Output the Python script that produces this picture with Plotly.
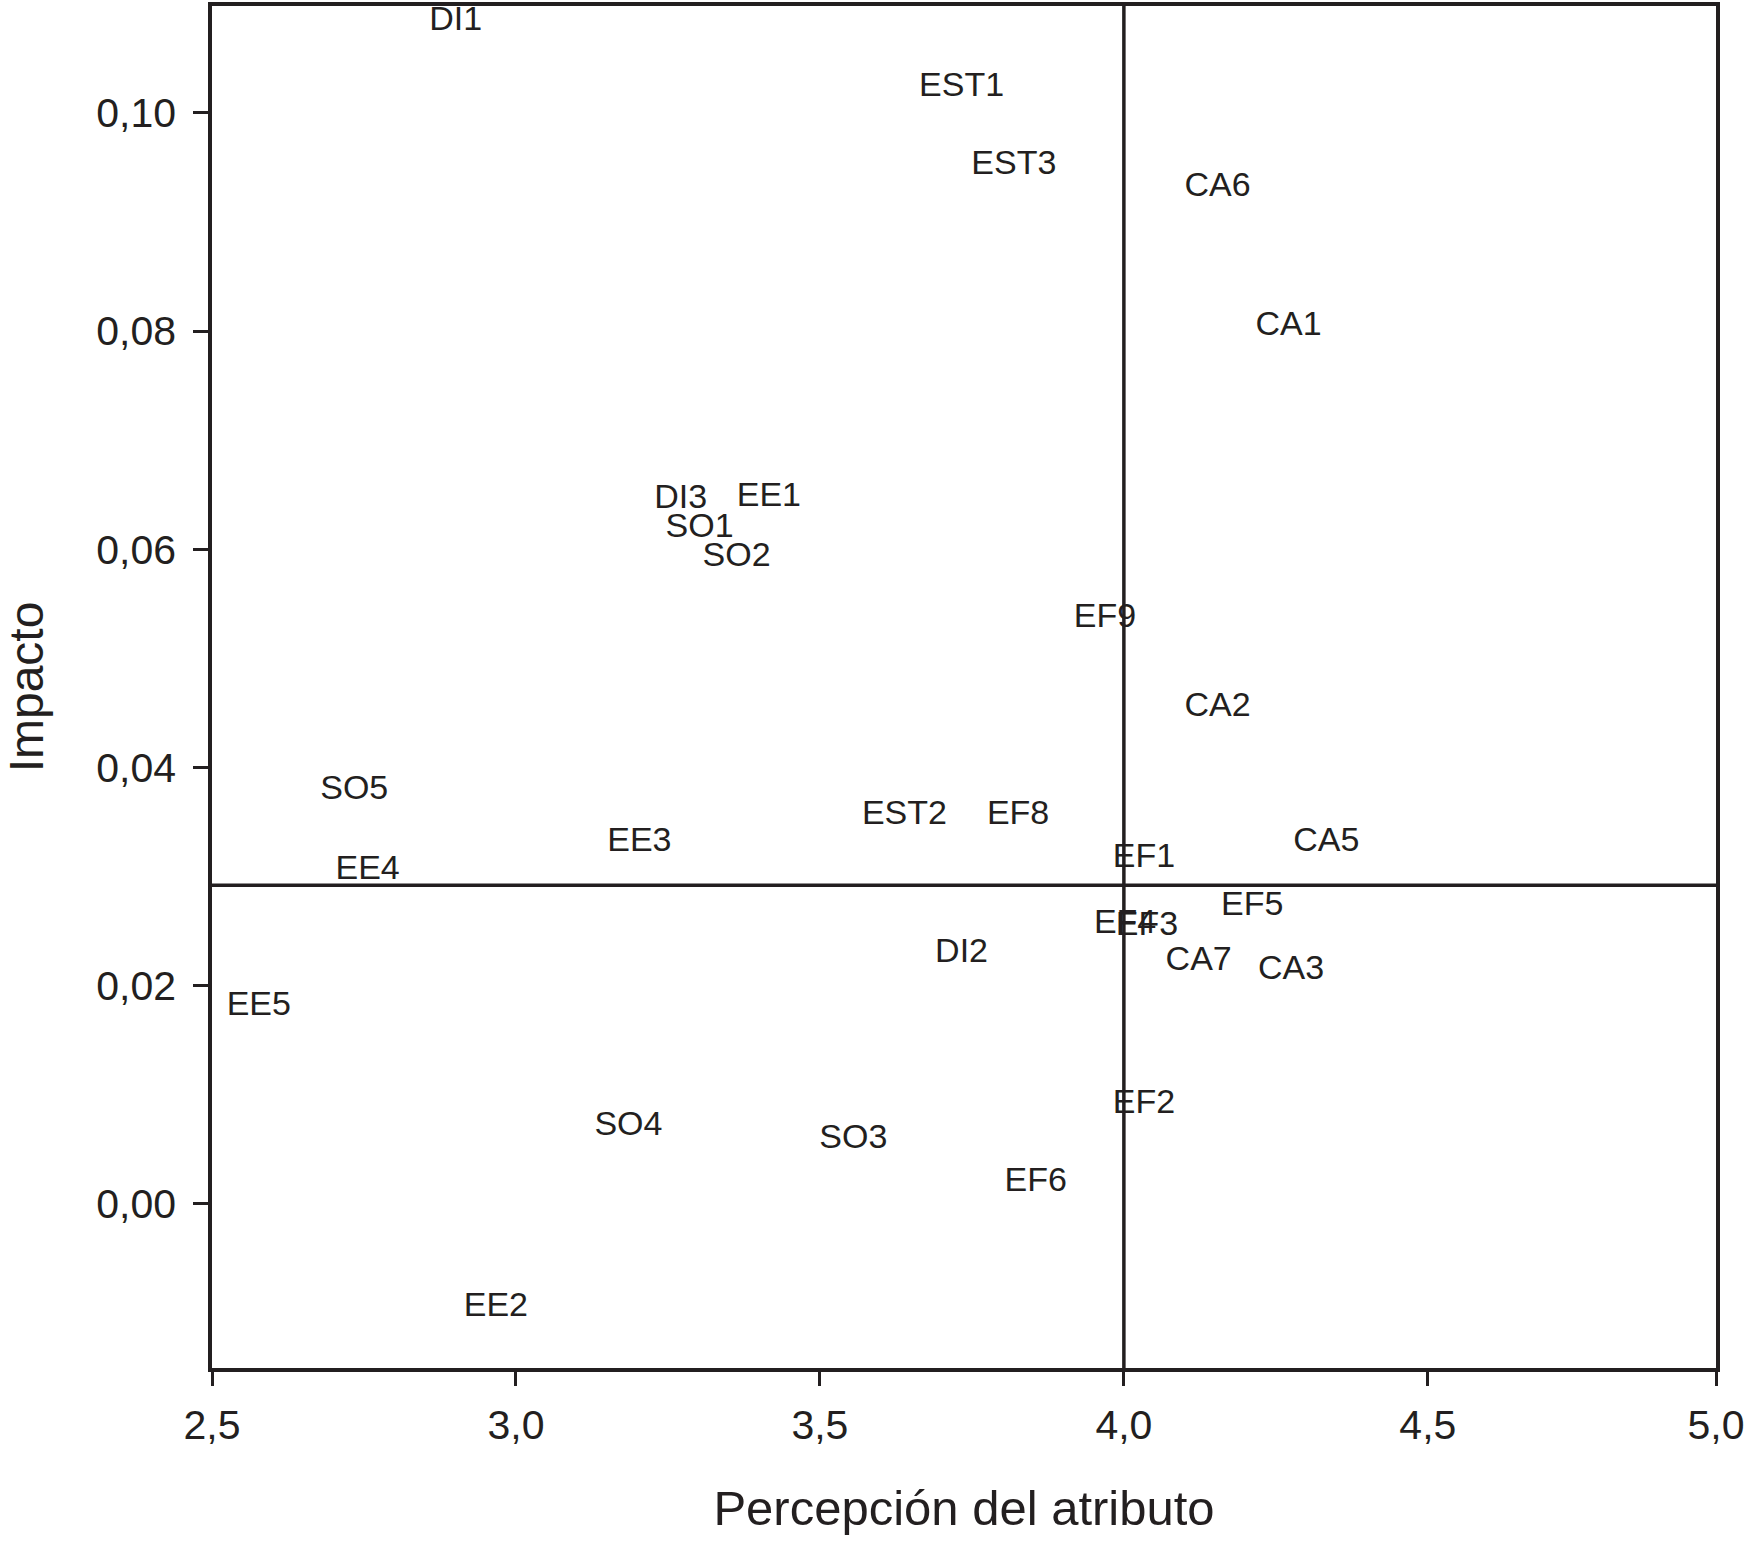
import plotly.graph_objects as go

labels = ["DI1", "EST1", "EST3", "CA6", "CA1", "DI3", "EE1", "SO1", "SO2", "EF9",
          "CA2", "SO5", "EST2", "EF8", "EE3", "CA5", "EF1", "EE4", "EF5", "EF4",
          "EF3", "DI2", "CA7", "CA3", "EE5", "EF2", "SO4", "SO3", "EF6", "EE2"]
percepcion = [2.901, 3.733, 3.819, 4.154, 4.271, 3.271, 3.416, 3.302, 3.363, 3.969,
              4.154, 2.734, 3.639, 3.826, 3.203, 4.333, 4.033, 2.756, 4.211, 4.002,
              4.038, 3.733, 4.123, 4.275, 2.577, 4.033, 3.185, 3.555, 3.855, 2.967]
impacto = [0.1084, 0.1023, 0.0952, 0.0932, 0.0804, 0.0646, 0.0647, 0.0619, 0.0592, 0.0536,
           0.0455, 0.0379, 0.0356, 0.0356, 0.0331, 0.0331, 0.0316, 0.0305, 0.0272, 0.0256,
           0.0254, 0.0229, 0.0222, 0.0214, 0.0181, 0.0091, 0.0071, 0.0059, 0.0019, -0.0095]

x_ticks = [2.5, 3.0, 3.5, 4.0, 4.5, 4.974]
x_ticktext = ["2,5", "3,0", "3,5", "4,0", "4,5", "5,0"]
y_ticks = [0.00, 0.02, 0.04, 0.06, 0.08, 0.10]
y_ticktext = ["0,00", "0,02", "0,04", "0,06", "0,08", "0,10"]

mean_percepcion = 4.0
mean_impacto = 0.0292

INK = "#231f20"
FONT = "Liberation Sans, Arial, Helvetica, sans-serif"

fig = go.Figure()
fig.add_trace(go.Scatter(
    x=percepcion, y=impacto, text=labels, mode="text",
    textposition="middle center",
    textfont=dict(family=FONT, size=34, color=INK),
    hoverinfo="text", showlegend=False,
))

fig.add_vline(x=mean_percepcion, line=dict(color=INK, width=3.5), layer="below")
fig.add_hline(y=mean_impacto, line=dict(color=INK, width=3.5), layer="below")

fig.update_layout(
    width=1747, height=1548,
    margin=dict(l=212, r=30, t=2, b=180),
    paper_bgcolor="white", plot_bgcolor="white",
    font=dict(family=FONT, color=INK),
)
fig.update_xaxes(
    range=[2.5, 4.974], tickvals=x_ticks, ticktext=x_ticktext,
    showgrid=False, zeroline=False,
    showline=True, linecolor=INK, linewidth=4, mirror=True,
    ticks="outside", ticklen=14, tickwidth=3, tickcolor=INK,
    tickfont=dict(family=FONT, size=41, color=INK), ticklabelstandoff=4,
    title=dict(text="Percepción del atributo", font=dict(family=FONT, size=49, color=INK), standoff=44),
)
fig.update_yaxes(
    range=[-0.01507, 0.1098], tickvals=y_ticks, ticktext=y_ticktext,
    showgrid=False, zeroline=False,
    showline=True, linecolor=INK, linewidth=3.5, mirror=True,
    ticks="outside", ticklen=15, tickwidth=3, tickcolor=INK,
    tickfont=dict(family=FONT, size=41, color=INK), ticklabelstandoff=9,
    title=dict(text="Impacto", font=dict(family=FONT, size=48, color=INK), standoff=43),
)

fig.write_html("out.html", config={"displayModeBar": False},
               post_script="document.body.style.margin='0';document.body.style.overflow='hidden';")
